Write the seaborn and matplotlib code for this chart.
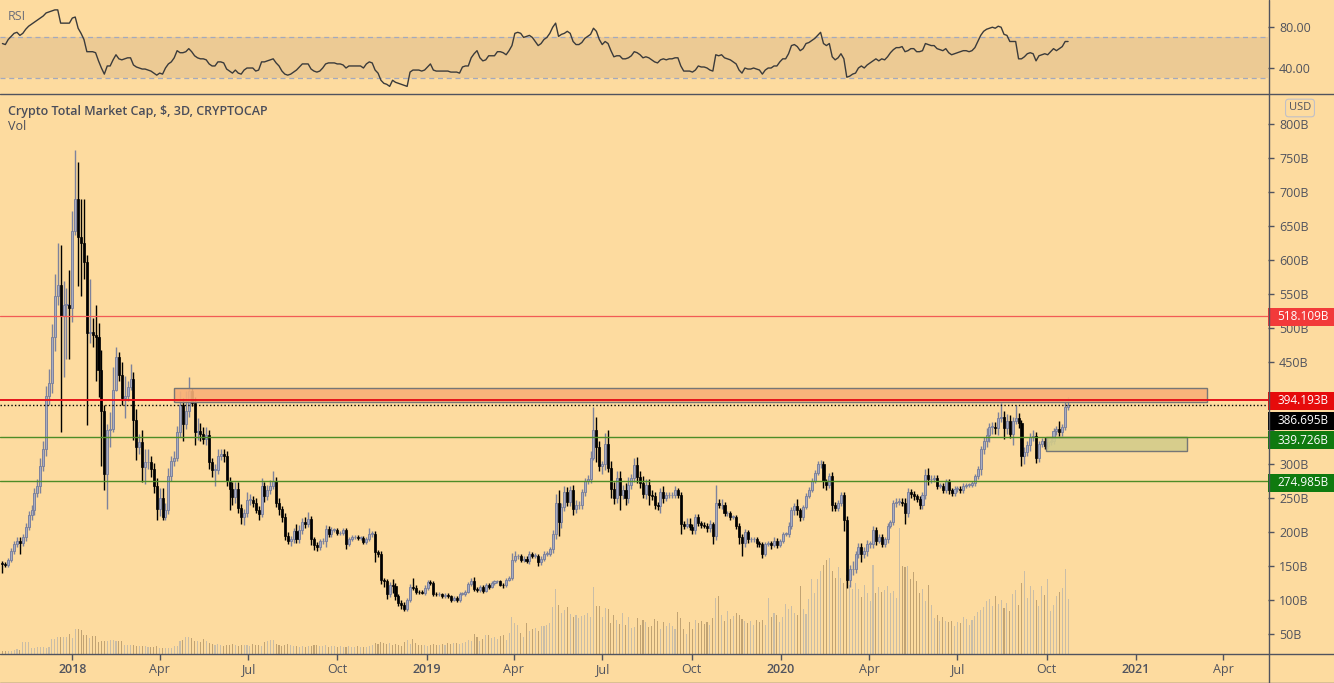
import numpy as np
import pandas as pd
import matplotlib
matplotlib.use("Agg")
import matplotlib.pyplot as plt
import matplotlib.dates as mdates
import matplotlib.transforms as mtransforms
from matplotlib.patches import Rectangle
from matplotlib.lines import Line2D
import seaborn as sns

# --- data: CRYPTOCAP total market cap, 3-day candles (billions USD) ---
last_candle = "2020-10-23"
first_open = 155

close = [
    153, 152, 159, 173, 183, 188, 184, 193, 208, 225,
    233, 258, 268, 298, 323, 400, 420, 487, 547, 564,
    518, 535, 535, 530, 644, 690, 635, 625, 598, 494,
    495, 491, 488, 439, 378, 286, 350, 352, 410, 458,
    431, 398, 400, 414, 426, 366, 326, 333, 296, 303,
    303, 294, 268, 234, 250, 223, 233, 283, 305, 310,
    348, 388, 360, 378, 408, 391, 348, 349, 345, 338,
    343, 304, 292, 292, 313, 315, 312, 276, 264, 252,
    264, 236, 223, 228, 248, 248, 243, 233, 227, 268,
    253, 262, 269, 275, 244, 234, 223, 195, 188, 190,
    202, 190, 203, 216, 213, 220, 190, 182, 178, 187,
    187, 205, 198, 204, 204, 199, 199, 203, 183, 190,
    193, 193, 192, 192, 186, 190, 198, 198, 171, 168,
    130, 128, 109, 123, 121, 106, 96, 94, 88, 100,
    120, 118, 113, 112, 111, 118, 127, 126, 110, 109,
    109, 107, 108, 106, 101, 104, 101, 110, 110, 113,
    124, 129, 117, 115, 120, 114, 123, 120, 125, 128,
    128, 123, 122, 130, 133, 160, 165, 165, 159, 161,
    158, 168, 166, 166, 156, 161, 169, 169, 175, 197,
    243, 215, 238, 260, 245, 262, 234, 240, 240, 259,
    275, 278, 310, 350, 325, 298, 300, 330, 295, 264,
    250, 280, 255, 262, 250, 270, 280, 299, 281, 273,
    257, 270, 255, 253, 240, 239, 260, 250, 255, 255,
    255, 262, 255, 213, 210, 213, 208, 203, 223, 214,
    211, 210, 206, 213, 195, 243, 240, 241, 228, 228,
    223, 223, 210, 193, 185, 200, 190, 190, 190, 185,
    183, 168, 183, 184, 181, 188, 181, 188, 198, 198,
    210, 233, 239, 233, 223, 238, 254, 263, 275, 288,
    300, 300, 275, 270, 283, 241, 236, 243, 255, 218,
    130, 146, 146, 168, 178, 168, 173, 183, 183, 204,
    188, 193, 183, 190, 210, 215, 243, 245, 245, 243,
    228, 260, 257, 253, 249, 241, 255, 285, 278, 278,
    280, 269, 269, 262, 275, 263, 258, 264, 264, 262,
    269, 270, 270, 273, 283, 294, 323, 335, 343, 355,
    355, 353, 369, 370, 353, 364, 345, 364, 368, 361,
    312, 318, 328, 340, 342, 310, 330, 335, 327, 333,
    335, 349, 352, 348, 355, 385, 386.695,
]

# wick lengths above / below the candle body (billions)
upper_wick = [
    3, 3, 3, 4, 4, 5, 5, 5, 6, 7,
    8, 8, 10, 12, 12, 15, 20, 20, 33, 61,
    59, 35, 25, 51, 29, 73, 55, 55, 65, 10,
    78, 21, 44, 20, 30, 10, 10, 25, 33, 15,
    8, 20, 30, 8, 22, 10, 16, 12, 18, 20,
    20, 10, 8, 12, 15, 15, 10, 12, 8, 10,
    8, 20, 10, 30, 21, 5, 8, 20, 12, 10,
    12, 8, 6, 8, 10, 8, 8, 8, 6, 10,
    10, 10, 6, 6, 12, 8, 6, 8, 6, 12,
    6, 8, 8, 15, 6, 6, 5, 6, 6, 5,
    5, 10, 8, 5, 6, 10, 4, 4, 4, 4,
    5, 6, 5, 4, 3, 3, 3, 3, 3, 4,
    3, 3, 3, 3, 3, 3, 8, 4, 4, 3,
    4, 3, 4, 4, 8, 4, 3, 4, 3, 4,
    4, 13, 4, 3, 3, 4, 3, 3, 2, 2,
    3, 2, 3, 3, 2, 2, 2, 2, 2, 3,
    3, 4, 6, 3, 3, 2, 3, 3, 3, 2,
    2, 2, 2, 3, 3, 10, 7, 4, 4, 5,
    4, 4, 3, 4, 3, 4, 3, 3, 4, 6,
    13, 20, 6, 9, 7, 6, 8, 8, 6, 5,
    5, 7, 10, 35, 20, 10, 5, 16, 20, 10,
    10, 10, 10, 8, 10, 12, 6, 10, 12, 10,
    10, 8, 8, 8, 6, 5, 5, 8, 5, 5,
    4, 6, 4, 4, 4, 8, 8, 4, 4, 4,
    3, 4, 4, 5, 3, 27, 6, 8, 4, 4,
    4, 3, 3, 4, 4, 5, 4, 4, 4, 3,
    3, 3, 3, 4, 4, 6, 4, 3, 3, 3,
    5, 4, 4, 10, 3, 3, 4, 4, 5, 4,
    5, 6, 5, 4, 4, 6, 4, 4, 4, 5,
    6, 6, 12, 5, 6, 7, 6, 6, 5, 5,
    4, 5, 4, 4, 4, 4, 5, 6, 5, 6,
    8, 5, 4, 4, 4, 4, 5, 8, 10, 6,
    4, 4, 4, 4, 3, 4, 3, 4, 5, 4,
    3, 3, 3, 3, 3, 3, 4, 5, 10, 6,
    8, 8, 8, 20, 8, 10, 8, 6, 20, 8,
    4, 8, 6, 6, 8, 6, 5, 4, 5, 6,
    4, 5, 5, 12, 5, 8, 13,
]

lower_wick = [
    12, 3, 3, 3, 4, 4, 16, 4, 5, 5,
    6, 8, 6, 10, 8, 10, 12, 15, 20, 12,
    170, 90, 80, 75, 20, 6, 72, 77, 25, 136,
    16, 18, 65, 40, 80, 23, 51, 25, 4, 2,
    8, 10, 30, 6, 5, 30, 20, 10, 22, 25,
    10, 12, 10, 16, 10, 4, 5, 6, 8, 8,
    5, 8, 25, 8, 8, 5, 20, 12, 10, 8,
    10, 10, 10, 24, 6, 6, 8, 8, 31, 12,
    8, 8, 10, 12, 6, 8, 5, 5, 8, 4,
    8, 5, 6, 5, 6, 8, 8, 6, 5, 8,
    6, 6, 5, 5, 6, 5, 8, 8, 6, 4,
    4, 8, 5, 4, 3, 3, 3, 3, 8, 3,
    3, 3, 3, 3, 3, 3, 3, 4, 14, 4,
    6, 8, 7, 4, 10, 6, 4, 6, 4, 4,
    3, 3, 4, 3, 2, 3, 3, 3, 3, 3,
    2, 3, 3, 3, 4, 2, 3, 3, 2, 3,
    2, 3, 3, 3, 2, 3, 2, 3, 2, 3,
    3, 2, 3, 2, 2, 3, 3, 4, 3, 3,
    3, 4, 3, 4, 6, 4, 3, 3, 4, 5,
    6, 20, 8, 6, 6, 6, 8, 6, 5, 5,
    5, 4, 6, 4, 22, 8, 12, 8, 6, 14,
    8, 6, 22, 6, 10, 6, 6, 6, 8, 8,
    6, 8, 15, 6, 6, 6, 10, 6, 4, 4,
    4, 4, 4, 15, 5, 4, 4, 6, 5, 4,
    5, 4, 5, 6, 12, 6, 4, 5, 4, 4,
    4, 3, 5, 10, 20, 6, 6, 4, 4, 6,
    4, 6, 3, 3, 6, 3, 4, 3, 3, 3,
    4, 5, 8, 8, 6, 4, 4, 4, 4, 3,
    4, 5, 10, 8, 4, 10, 5, 5, 4, 16,
    12, 10, 8, 6, 5, 12, 6, 8, 6, 6,
    6, 4, 5, 4, 6, 4, 4, 6, 4, 4,
    15, 6, 6, 6, 4, 6, 6, 6, 8, 6,
    4, 5, 4, 4, 4, 6, 4, 4, 4, 4,
    4, 3, 3, 3, 4, 4, 10, 8, 10, 10,
    10, 8, 10, 6, 16, 8, 6, 16, 4, 8,
    14, 12, 6, 8, 6, 8, 6, 4, 4, 5,
    5, 5, 6, 6, 6, 5, 5,
]

# volume (relative units)
volume = [
    2, 2, 2, 2, 3, 4, 3, 11, 11, 11,
    5, 5, 6, 6, 6, 5, 6, 14, 14, 16,
    16, 16, 16, 19, 15, 24, 24, 23, 18, 18,
    15, 17, 17, 11, 12, 12, 12, 13, 13, 12,
    12, 12, 8, 8, 8, 8, 7, 7, 7, 7,
    6, 6, 6, 7, 5, 5, 5, 5, 5, 7,
    7, 12, 13, 16, 16, 15, 12, 12, 11, 14,
    12, 10, 9, 8, 9, 8, 7, 8, 8, 9,
    8, 7, 8, 8, 8, 7, 9, 8, 8, 7,
    11, 12, 13, 13, 9, 8, 7, 8, 9, 8,
    7, 7, 6, 7, 6, 7, 7, 8, 8, 7,
    7, 8, 6, 7, 7, 6, 7, 6, 6, 7,
    6, 6, 7, 6, 6, 6, 7, 8, 10, 9,
    11, 10, 9, 10, 8, 9, 8, 7, 11, 13,
    9, 14, 10, 8, 8, 8, 7, 8, 9, 8,
    8, 9, 8, 10, 9, 10, 10, 9, 10, 11,
    13, 12, 19, 16, 12, 14, 18, 18, 15, 16,
    14, 17, 18, 13, 20, 36, 30, 28, 20, 16,
    30, 22, 24, 25, 22, 27, 27, 28, 30, 46,
    64, 48, 40, 43, 46, 39, 36, 38, 35, 37,
    38, 40, 36, 66, 47, 47, 36, 45, 44, 30,
    38, 33, 29, 40, 28, 36, 25, 26, 35, 28,
    33, 31, 26, 27, 34, 32, 24, 31, 27, 30,
    27, 24, 41, 35, 24, 19, 31, 24, 33, 30,
    32, 29, 31, 28, 35, 55, 57, 38, 32, 42,
    34, 37, 40, 38, 34, 32, 30, 32, 28, 33,
    31, 33, 28, 55, 36, 40, 38, 31, 36, 49,
    44, 47, 40, 38, 67, 44, 39, 54, 74, 60,
    74, 82, 88, 93, 95, 82, 75, 86, 75, 70,
    78, 68, 64, 70, 64, 56, 68, 60, 52, 88,
    60, 66, 61, 63, 67, 60, 62, 55, 125, 87,
    86, 87, 74, 81, 72, 60, 64, 52, 68, 48,
    35, 38, 32, 36, 32, 31, 32, 27, 31, 30,
    36, 34, 28, 33, 37, 41, 43, 46, 52, 54,
    47, 57, 49, 53, 45, 50, 42, 59, 63, 48,
    70, 82, 55, 67, 63, 53, 47, 67, 58, 74,
    42, 48, 57, 61, 65, 84, 54,
]

rsi = [
    64, 63, 68, 71, 74, 75, 72, 74, 78, 81,
    83, 85, 87, 89, 91, 94, 95, 96, 97, 97,
    84, 84, 84, 84, 89, 90, 79, 74, 68, 56,
    56, 56, 55, 47, 40, 34, 42, 42, 48, 53,
    49, 48, 49, 50, 50, 43, 41, 40, 39, 39,
    38, 37, 35, 33, 35, 34, 40, 44, 46, 50,
    57, 55, 55, 56, 59, 56, 52, 50, 49, 49,
    48, 44, 42, 42, 46, 46, 45, 39, 37, 35,
    38, 35, 34, 38, 40, 40, 40, 37, 38, 46,
    46, 47, 48, 49, 45, 42, 37, 34, 33, 34,
    36, 38, 41, 44, 44, 44, 39, 37, 36, 37,
    40, 44, 45, 45, 45, 44, 44, 43, 40, 42,
    42, 42, 42, 42, 40, 44, 46, 45, 38, 35,
    28, 25, 24, 22, 28, 26, 25, 24, 23, 22,
    36, 38, 38, 38, 37, 38, 41, 44, 38, 37,
    37, 37, 37, 37, 36, 36, 36, 35, 41, 42,
    42, 50, 54, 57, 50, 47, 48, 52, 52, 52,
    56, 56, 55, 53, 57, 62, 74, 75, 74, 70,
    71, 72, 70, 66, 62, 64, 68, 70, 74, 80,
    84, 71, 73, 74, 76, 74, 66, 63, 63, 65,
    69, 71, 73, 79, 76, 68, 63, 66, 64, 57,
    51, 52, 52, 49, 49, 50, 52, 56, 55, 53,
    50, 51, 50, 48, 46, 45, 48, 49, 48, 49,
    49, 50, 50, 42, 37, 37, 37, 36, 38, 42,
    41, 41, 40, 38, 37, 53, 52, 53, 50, 49,
    48, 46, 44, 38, 35, 40, 39, 39, 40, 39,
    38, 34, 38, 40, 40, 42, 42, 46, 49, 49,
    54, 62, 63, 61, 57, 59, 64, 65, 67, 69,
    72, 75, 64, 62, 64, 51, 48, 50, 54, 49,
    31, 32, 34, 35, 40, 42, 40, 43, 45, 47,
    49, 47, 49, 48, 51, 55, 58, 60, 60, 61,
    56, 57, 59, 59, 56, 56, 57, 64, 63, 62,
    62, 59, 58, 57, 59, 55, 53, 54, 55, 56,
    57, 57, 56, 57, 60, 66, 72, 76, 78, 79,
    80, 79, 81, 80, 73, 72, 66, 66, 66, 49,
    49, 51, 54, 55, 54, 47, 52, 53, 54, 53,
    56, 59, 57, 59, 61, 66, 66,
]

# horizontal levels and drawn zones
level_values = [518.109, 394.193, 339.726, 274.985]
level_colors = ["#f25a55", "#e5131a", "#4d8c27", "#4d8c27"]
level_widths = [0.9, 1.4, 1.0, 1.0]
last_price = 386.695
zone_starts = ["2018-04-16", "2020-09-30"]
zone_ends = ["2021-03-15", "2021-02-23"]
zone_lows = [391.5, 320]
zone_highs = [412, 339.726]
zone_fills = ["#f8b078", "#d3cc8a"]

price_ticks = list(range(50, 801, 50))
# 350B and 400B sit under the price labels and are not visible
hidden_ticks = [350, 400]
date_ticks = ["2018-01-01", "2018-04-01", "2018-07-01", "2018-10-01",
              "2019-01-01", "2019-04-01", "2019-07-01", "2019-10-01",
              "2020-01-01", "2020-04-01", "2020-07-01", "2020-10-01",
              "2021-01-01", "2021-04-01"]
date_labels = ["2018", "Apr", "Jul", "Oct", "2019", "Apr", "Jul", "Oct",
               "2020", "Apr", "Jul", "Oct", "2021", "Apr"]

BG = "#fddb9f"
TXT = "#50535e"
UP_FILL = "#a9adc2"
UP_EDGE = "#7d829c"

sns.set_theme(style="white")
plt.rcParams["font.family"] = ["Open Sans", "DejaVu Sans"]

df = pd.DataFrame({
    "date": pd.date_range(end=last_candle, periods=len(close), freq="3D"),
    "close": close, "uw": upper_wick, "lw": lower_wick,
    "vol": volume, "rsi": rsi,
})
df["open"] = [first_open] + close[:-1]
df["top"] = df[["open", "close"]].max(axis=1)
df["bot"] = df[["open", "close"]].min(axis=1)
df["high"] = df["top"] + df["uw"]
df["low"] = df["bot"] - df["lw"]
df["up"] = df["close"] >= df["open"]
df["body"] = (df["top"] - df["bot"]).clip(lower=0.8)

W, H = 1334, 683
fig = plt.figure(figsize=(W / 100, H / 100), dpi=100, facecolor=BG)
fx = lambda px: px / W
fy = lambda py: 1 - py / H
AX_R = 1268

ax_rsi = fig.add_axes([0, fy(93.5), fx(AX_R), 1 - fy(93.5)])
rect_main = [0, fy(653.5), fx(AX_R), fy(94.5) - fy(653.5)]
ax_vol = fig.add_axes(rect_main)
ax = fig.add_axes(rect_main, sharex=ax_vol)
ax_vol.set_zorder(0)
ax.set_zorder(1)
ax.patch.set_visible(False)
for a in (ax_rsi, ax_vol):
    a.set_facecolor(BG)
for a in (ax, ax_rsi, ax_vol):
    for s in a.spines.values():
        s.set_visible(False)

x0 = pd.Timestamp("2018-01-01") - pd.Timedelta(days=74.5)
x1 = pd.Timestamp("2018-01-01") + pd.Timedelta(days=1232)

# volume
vcol = np.where(df["up"], "#c9bda7", "#c1a373")
ax_vol.bar(df["date"], df["vol"], width=1.1, color=vcol, linewidth=0)
ax_vol.set_ylim(0, 558.5)
ax_vol.set_xlim(x0, x1)
ax_vol.axis("off")

# zones
for s, e, lo, hi, fc in zip(zone_starts, zone_ends, zone_lows, zone_highs, zone_fills):
    xs = mdates.date2num(pd.Timestamp(s))
    xe = mdates.date2num(pd.Timestamp(e))
    ax.add_patch(Rectangle((xs, lo), xe - xs, hi - lo, facecolor=fc, alpha=0.9,
                           edgecolor="none", zorder=4))
    ax.add_patch(Rectangle((xs, lo), xe - xs, hi - lo, facecolor="none",
                           edgecolor="#767676", linewidth=1.0, zorder=4))

# candles
upd = df[df["up"]]
dn = df[~df["up"]]
ax.vlines(upd["date"], upd["low"], upd["high"], colors=UP_EDGE, linewidth=1.0, zorder=2)
ax.bar(upd["date"], upd["body"], bottom=upd["bot"], width=2.1, color=UP_FILL,
       edgecolor=UP_EDGE, linewidth=0.7, zorder=3)
ax.vlines(dn["date"], dn["low"], dn["high"], colors="black", linewidth=1.0, zorder=2)
ax.bar(dn["date"], dn["body"], bottom=dn["bot"], width=2.1, color="black",
       edgecolor="black", linewidth=0.5, zorder=3)

# levels
for v, c, lw in zip(level_values, level_colors, level_widths):
    ax.axhline(v, color=c, linewidth=lw, zorder=5)
ax.axhline(last_price, color="black", linewidth=1.0, linestyle=(0, (1, 1.6)), zorder=5)

ax.set_xlim(x0, x1)
ax.set_ylim(22, 844)
ax.yaxis.tick_right()
ax.set_yticks(price_ticks)
ax.set_yticklabels(["" if t in hidden_ticks else f"{t}B" for t in price_ticks])
ax.set_xticks(pd.to_datetime(date_ticks))
ax.set_xticklabels(date_labels)
ax.tick_params(axis="y", which="both", right=True, length=4, width=1, color=TXT,
               labelcolor=TXT, labelsize=9, pad=4)
ax.tick_params(axis="x", which="both", bottom=True, length=4, width=1, color=TXT,
               labelcolor=TXT, labelsize=9, pad=3)
for lab in ax.get_xticklabels():
    if lab.get_text().isdigit():
        lab.set_fontweight("semibold")
ax.set_xlabel("")
ax.set_ylabel("")

# price labels on the right scale
lab_tr = mtransforms.blended_transform_factory(ax.transAxes, ax.transData)
label_values = [518.109, 394.193, 386.695, 339.726, 274.985]
label_centers = [517.0, 394.0, 364.5, 335.5, 273.0]
label_colors = ["#f23a3a", "#e60b0b", "#000000", "#0f7a0f", "#0f7a0f"]
half = 9 / 0.68
for v, yc, c in zip(label_values, label_centers, label_colors):
    ax.add_patch(Rectangle((1.0, yc - half), W / AX_R - 1.0, 2 * half, transform=lab_tr,
                           facecolor=c, edgecolor="none", clip_on=False, zorder=6))
    ax.text(1.0 + 9 / AX_R, yc, f"{v:.3f}B", transform=lab_tr, color="white",
            fontsize=8.5, va="center", ha="left", clip_on=False, zorder=7)

# RSI panel
ax_rsi.axhspan(30, 70, color="#ecca94", linewidth=0, zorder=0)
for lvl in (70, 30):
    ax_rsi.axhline(lvl, color="#a3a9bd", linewidth=0.9, linestyle=(0, (4, 3)), zorder=1)
sns.lineplot(data=df, x="date", y="rsi", ax=ax_rsi, color="#3b3b3b", linewidth=1.0, zorder=2)
ax_rsi.set_xlim(x0, x1)
ax_rsi.set_ylim(15, 106.7)
ax_rsi.yaxis.tick_right()
ax_rsi.set_yticks([80, 40])
ax_rsi.set_yticklabels(["80.00", "40.00"])
ax_rsi.tick_params(axis="y", right=True, length=4, width=1, color=TXT,
                   labelcolor=TXT, labelsize=9, pad=4)
ax_rsi.set_xticks([])
ax_rsi.set_xlabel("")
ax_rsi.set_ylabel("")

# texts
fig.text(fx(8), fy(17), "RSI", fontsize=9, color="#6b6e7a", va="center")
fig.text(fx(8), fy(111), "Crypto Total Market Cap, $, 3D, CRYPTOCAP", fontsize=9,
         fontweight="semibold", color="#4a4d5a", va="center")
fig.text(fx(8), fy(127), "Vol", fontsize=9, color="#4a4d5a", va="center")
fig.text(fx(1300), fy(108), "USD", fontsize=8, color=TXT, ha="center", va="center",
         bbox=dict(boxstyle="round,pad=0.3", fc="none", ec="#c0c0c8", lw=0.8))

# frame lines
line_kw = dict(transform=fig.transFigure, color="#50535e", linewidth=1.0)
fig.add_artist(Line2D([0, 1], [fy(93.5)] * 2, **line_kw))
fig.add_artist(Line2D([0, 1], [fy(653.5)] * 2, **line_kw))
fig.add_artist(Line2D([0, 1], [fy(682.5)] * 2, **line_kw))
fig.add_artist(Line2D([fx(AX_R + 0.5)] * 2, [0, 1], **line_kw))

fig.savefig("out.png", dpi=100, facecolor=BG)
